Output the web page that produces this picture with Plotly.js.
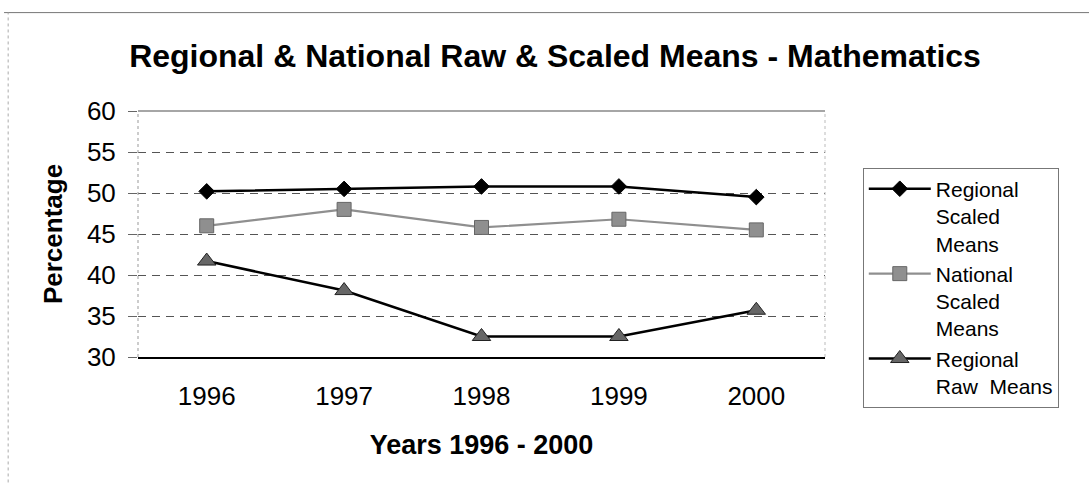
<!DOCTYPE html>
<html>
<head>
<meta charset="utf-8">
<script src="https://cdn.plot.ly/plotly-3.0.1.min.js"></script>
<style>html,body{margin:0;padding:0;background:#fff;}#chart{width:1089px;height:483px;}</style>
</head>
<body>
<div id="chart"></div>
<script>
var years = ["1996", "1997", "1998", "1999", "2000"];
var regionalScaled = [50.2, 50.5, 50.8, 50.8, 49.5];
var nationalScaled = [46.0, 48.0, 45.8, 46.8, 45.5];
var regionalRaw = [41.7, 38.1, 32.5, 32.5, 35.7];
var seriesNames = ["Regional<br>Scaled<br>Means", "National<br>Scaled<br>Means", "Regional<br>Raw&nbsp; Means"];
var yTicks = [30, 35, 40, 45, 50, 55, 60];

var FONT = "Arial, 'Liberation Sans', sans-serif";

var traces = [
  {x: years, y: regionalScaled, name: seriesNames[0], type: "scatter", mode: "lines+markers",
   line: {color: "#000", width: 2.5},
   marker: {symbol: "diamond", size: 12, color: "#000", line: {color: "#000", width: 1}}},
  {x: years, y: nationalScaled, name: seriesNames[1], type: "scatter", mode: "lines+markers",
   line: {color: "#8f8f8f", width: 2.2},
   marker: {symbol: "square", size: 14, color: "#8f8f8f", line: {color: "#666", width: 1}}},
  {x: years, y: regionalRaw, name: seriesNames[2], type: "scatter", mode: "lines+markers",
   line: {color: "#000", width: 2.5},
   marker: {symbol: "triangle-up", size: 16, color: "#666", line: {color: "#222", width: 1}}}
];

var layout = {
  width: 1089, height: 483,
  paper_bgcolor: "#fff", plot_bgcolor: "#fff",
  margin: {l: 138, r: 264, t: 111, b: 126, pad: 0},
  font: {family: FONT, color: "#000"},
  title: {text: "<b>Regional &amp; National Raw &amp; Scaled Means - Mathematics</b>",
          font: {family: FONT, size: 32, color: "#000"},
          x: 0.607, xanchor: "center", y: 0.885, yanchor: "middle", xref: "paper"},
  showlegend: true,
  legend: {x: 1.055, xanchor: "left", y: 0.77, yanchor: "top",
           font: {family: FONT, size: 21, color: "#000"},
           bgcolor: "#fff", bordercolor: "#777", borderwidth: 1,
           valign: "top", tracegroupgap: 0, itemwidth: 62},
  xaxis: {type: "category", range: [-0.5, 4.5], showgrid: false, zeroline: false,
          showline: true, linecolor: "#000", linewidth: 1.5, mirror: false,
          ticks: "", tickfont: {family: FONT, size: 26, color: "#000"},
          ticklabelstandoff: 15,
          title: {text: "<b>Years 1996 - 2000</b>", font: {family: FONT, size: 27, color: "#000"}, standoff: 25}},
  yaxis: {range: [30, 60], tickvals: yTicks, ticktext: yTicks.map(String),
          showgrid: true, gridcolor: "#555", gridwidth: 1, griddash: "8px,6px",
          zeroline: false, showline: false,
          ticks: "outside", ticklen: 9, tickcolor: "#666", tickwidth: 1,
          ticklabelstandoff: 7,
          tickfont: {family: FONT, size: 26, color: "#000"},
          title: {text: "<b>Percentage</b>", font: {family: FONT, size: 26, color: "#000"}, standoff: 16}},
  shapes: [
    {type: "line", xref: "paper", yref: "paper", x0: 0, x1: 1, y0: 1, y1: 1, line: {color: "#888", width: 1.5}},
    {type: "line", xref: "paper", yref: "paper", x0: 0, x1: 0, y0: 0, y1: 1, line: {color: "#999", width: 1, dash: "dot"}},
    {type: "line", xref: "paper", yref: "paper", x0: 1, x1: 1, y0: 0, y1: 1, line: {color: "#bbb", width: 1, dash: "dot"}},
    {type: "line", xref: "paper", yref: "paper", x0: -0.195, x1: 1.4, y0: 1.4, y1: 1.4, line: {color: "#777", width: 1}},
    {type: "line", xref: "paper", yref: "paper", x0: -0.189, x1: -0.189, y0: -0.51, y1: 1.4, line: {color: "#aaa", width: 1, dash: "dot"}}
  ]
};

Plotly.newPlot("chart", traces, layout, {displayModeBar: false, staticPlot: true});
</script>
</body>
</html>
